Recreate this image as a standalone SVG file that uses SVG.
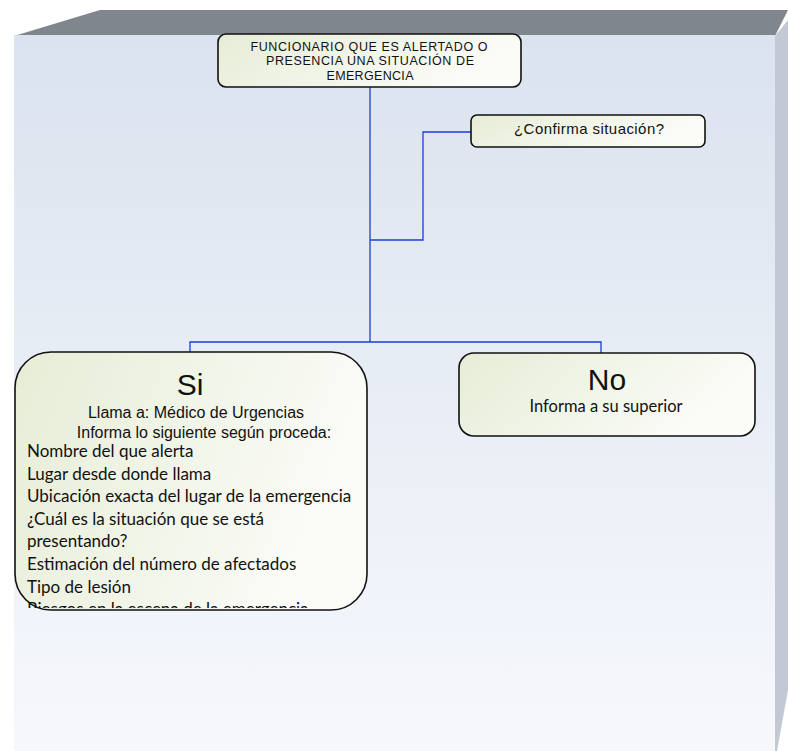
<svg xmlns="http://www.w3.org/2000/svg" width="788" height="751" viewBox="0 0 788 751">
<defs>
<linearGradient id="bg" x1="0" y1="0" x2="0" y2="1">
<stop offset="0" stop-color="#dbe3ef"/>
<stop offset="1" stop-color="#f6f8fc"/>
</linearGradient>
<linearGradient id="nodefill" x1="0" y1="0" x2="1" y2="0.3">
<stop offset="0" stop-color="#e6edd6"/>
<stop offset="1" stop-color="#fbfcf8"/>
</linearGradient>
<clipPath id="siclip"><rect x="15" y="352" width="352" height="256"/></clipPath>
</defs>
<style>
.node{fill:url(#nodefill);stroke:#111;stroke-width:1.6}
.conn{fill:none;stroke:#1a3fd1;stroke-width:1.3}
.a{font-family:"Liberation Sans",Arial,sans-serif;fill:#111;text-anchor:middle}
.c{font-family:Lato,"Open Sans",sans-serif;fill:#111}
</style>
<g id="background">
<polygon points="14,36 100,10 788,10 775,36" fill="#80868e"/>
<rect x="14" y="35" width="762" height="716" fill="url(#bg)"/>
<polygon points="775,36 788,20 788,690 777,751 775,751" fill="#c2c9d5"/>
</g>
<g id="connectors">
<path class="conn" d="M370,87 V342"/>
<path class="conn" d="M370,240 H423 V132 H471"/>
<path class="conn" d="M190,352 V342 H601 V354"/>
</g>
<g id="n1">
<rect class="node" x="218" y="34" width="303" height="53" rx="8"/>
<text class="a" font-size="12.5" x="369" y="51" textLength="237" lengthAdjust="spacing">FUNCIONARIO QUE ES ALERTADO O</text>
<text class="a" font-size="12.5" x="370" y="65" textLength="208" lengthAdjust="spacing">PRESENCIA UNA SITUACIÓN DE</text>
<text class="a" font-size="12.5" x="370" y="80" textLength="87" lengthAdjust="spacing">EMERGENCIA</text>
</g>
<g id="n2">
<rect class="node" x="471" y="115" width="234" height="32" rx="6"/>
<text class="a" font-size="15" x="589" y="134" textLength="150" lengthAdjust="spacing">¿Confirma situación?</text>
</g>
<g id="n3">
<rect class="node" x="15" y="352" width="352" height="258" rx="36"/>
<text class="a" font-size="30" x="190" y="395">Si</text>
<text class="a" font-size="16" x="196" y="418">Llama a: Médico de Urgencias</text>
<text class="a" font-size="16" x="204" y="438">Informa lo siguiente según proceda:</text>
<g clip-path="url(#siclip)" class="c" font-size="17">
<text x="27" y="457">Nombre del que alerta</text>
<text x="27" y="479.6">Lugar desde donde llama</text>
<text x="27" y="502.2">Ubicación exacta del lugar de la emergencia</text>
<text x="27" y="524.8">¿Cuál es la situación que se está</text>
<text x="27" y="547.4">presentando?</text>
<text x="27" y="570">Estimación del número de afectados</text>
<text x="27" y="592.6">Tipo de lesión</text>
<text x="27" y="615.2">Riesgos en la escena de la emergencia</text>
</g>
</g>
<g id="n4">
<rect class="node" x="459" y="353" width="296" height="83" rx="15"/>
<text class="a" font-size="30" x="607" y="390">No</text>
<text class="c" font-size="16.5" x="606" y="412" text-anchor="middle">Informa a su superior</text>
</g>
</svg>
